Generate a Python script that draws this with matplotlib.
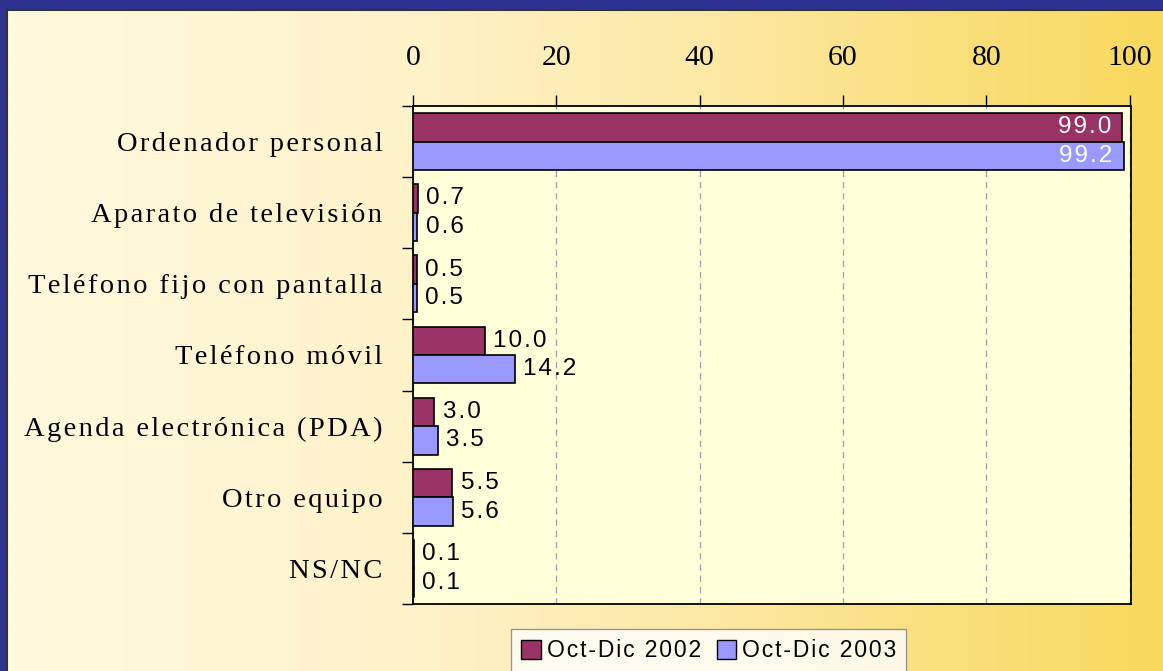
import matplotlib
matplotlib.use('Agg')
import matplotlib.pyplot as plt
import numpy as np
from matplotlib.colors import LinearSegmentedColormap
from matplotlib.patches import Patch

categories = ['Ordenador personal', 'Aparato de televisión', 'Teléfono fijo con pantalla',
              'Teléfono móvil', 'Agenda electrónica (PDA)', 'Otro equipo', 'NS/NC']
vals_2002 = [99.0, 0.7, 0.5, 10.0, 3.0, 5.5, 0.1]
vals_2003 = [99.2, 0.6, 0.5, 14.2, 3.5, 5.6, 0.1]
series_names = ['Oct-Dic 2002', 'Oct-Dic 2003']
xticks = [0, 20, 40, 60, 80, 100]

W, H = 1163, 671
fig = plt.figure(figsize=(W / 100, H / 100), dpi=100)
fig.patch.set_facecolor('#2E3192')

def spaced(s):
    # mimic the wide letter spacing of the original
    return '\u200a'.join(s)

# gradient background panel
bg = fig.add_axes([7 / W, 0, 1 - 7 / W, 1 - 10 / H])
cmap = LinearSegmentedColormap.from_list('bg', [(0, '#FFF9DE'), (0.35, '#FEF2C9'),
                                               (0.6, '#FCE9A6'), (0.8, '#FAE07F'),
                                               (1.0, '#F8D95C')])
grad = np.tile(np.linspace(0, 1, 512), (16, 1))
bg.imshow(grad, aspect='auto', cmap=cmap, extent=[0, 1, 0, 1])
bg.set_xticks([])
bg.set_yticks([])
for s in bg.spines.values():
    s.set_color('#333333')
    s.set_linewidth(1.5)
bg.spines['right'].set_visible(False)
bg.spines['bottom'].set_visible(False)

ax = fig.add_axes([413 / W, 1 - 604 / H, (1131 - 413) / W, (604 - 106) / H])
ax.set_facecolor('#FFFFD9')

y = np.arange(len(categories)) + 0.5
h = 0.4
c2002, c2003 = '#993366', '#9999FF'
ax.barh(y - h / 2, vals_2002, height=h, color=c2002, edgecolor='black', linewidth=1.2,
        label=series_names[0], zorder=3)
ax.barh(y + h / 2, vals_2003, height=h, color=c2003, edgecolor='black', linewidth=1.2,
        label=series_names[1], zorder=3)

lab_font = dict(family=['Liberation Sans', 'DejaVu Sans'], fontsize=17.5)
for vals, off in ((vals_2002, -h / 2), (vals_2003, h / 2)):
    for yi, v in zip(y, vals):
        txt = spaced(f'{v:.1f}')
        if v > 90:
            ax.annotate(txt, (v, yi + off), xytext=(-8, 0), textcoords='offset points',
                        ha='right', va='center', color='white', zorder=4, **lab_font)
        else:
            ax.annotate(txt, (v, yi + off), xytext=(6, 0), textcoords='offset points',
                        ha='left', va='center', color='black', zorder=4, **lab_font)

ax.set_xlim(0, 100.2)
ax.set_ylim(len(categories), 0)
ax.xaxis.tick_top()
ax.set_xticks(xticks)
ax.set_xticklabels([str(t) for t in xticks], family=['Liberation Serif', 'DejaVu Serif'],
                   fontsize=21.5)
ax.tick_params(axis='x', direction='out', length=8, width=1, pad=17)
ax.grid(axis='x', color='#A0A0A0', linestyle=(0, (5, 4)), linewidth=0.9, zorder=0)

ax.set_yticks(np.arange(len(categories) + 1))
ax.set_yticklabels([])
ax.tick_params(axis='y', which='major', direction='out', length=8, width=1)
ax.set_yticks(y, minor=True)
ax.set_yticklabels([spaced(c) for c in categories], minor=True,
                   family=['Liberation Serif', 'DejaVu Serif'], fontsize=20.5)
ax.tick_params(axis='y', which='minor', length=0, pad=22)

for s in ax.spines.values():
    s.set_linewidth(1.3)
    s.set_color('black')

handles = [Patch(facecolor=c2002, edgecolor='black'), Patch(facecolor=c2003, edgecolor='black')]
leg = fig.legend(handles, [spaced(n) for n in series_names], loc='upper left',
                 bbox_to_anchor=(511 / W, 1 - 629 / H), ncol=2, frameon=True, fancybox=False,
                 prop={'family': ['Liberation Sans', 'DejaVu Sans'], 'size': 16.5},
                 handlelength=0.85, handleheight=0.85, handletextpad=0.25, columnspacing=0.7,
                 borderpad=0.45, borderaxespad=0)
leg.get_frame().set_edgecolor('#808080')
leg.get_frame().set_linewidth(1)

fig.savefig('out.png', dpi=100, facecolor=fig.get_facecolor())
